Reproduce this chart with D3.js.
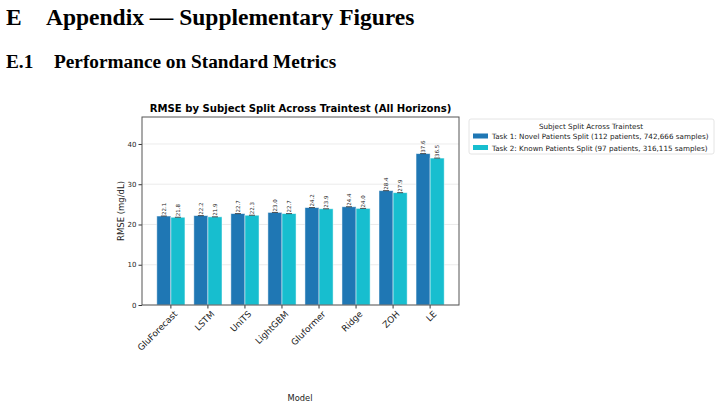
<!DOCTYPE html>
<html>
<head>
<meta charset="utf-8">
<script src="https://cdn.jsdelivr.net/npm/d3@7"></script>
<style>
  body { margin: 0; background: #fff; }
</style>
</head>
<body>
<div id="chart"></div>
<script>
const models = ["GluForecast", "LSTM", "UniTS", "LightGBM", "Gluformer", "Ridge", "ZOH", "LE"];
const task1 = [22.1, 22.2, 22.7, 23.0, 24.2, 24.4, 28.4, 37.6];
const task2 = [21.8, 21.9, 22.3, 22.7, 23.9, 24.0, 27.9, 36.5];
const seriesNames = [
  "Task 1: Novel Patients Split (112 patients, 742,666 samples)",
  "Task 2: Known Patients Split (97 patients, 316,115 samples)"
];
const yTicks = [0, 10, 20, 30, 40];

const width = 721, height = 408;
const colors = ["#1f77b4", "#17becf"];
const margin = {top: 117, right: 262, bottom: 103, left: 142};

const svg = d3.select("#chart").append("svg")
    .attr("width", width)
    .attr("height", height);

// page headings
const serif = "'Liberation Serif', 'Times New Roman', serif";
svg.append("text").attr("x", 6).attr("y", 25)
    .style("font", `bold 23.5px ${serif}`).text("E");
svg.append("text").attr("x", 46).attr("y", 25)
    .style("font", `bold 23.5px ${serif}`).text("Appendix — Supplementary Figures");
svg.append("text").attr("x", 6).attr("y", 68)
    .style("font", `bold 19.3px ${serif}`).text("E.1");
svg.append("text").attr("x", 54).attr("y", 68)
    .style("font", `bold 19.3px ${serif}`).text("Performance on Standard Metrics");

const sans = "'DejaVu Sans', sans-serif";

const x = d3.scaleBand()
    .domain(models)
    .range([margin.left, width - margin.right])
    .paddingInner(0.24)
    .paddingOuter(0.4);

const xs = d3.scaleBand()
    .domain([0, 1])
    .range([0, x.bandwidth()]);

const y = d3.scaleLinear()
    .domain([0, 46.7])
    .range([height - margin.bottom, margin.top]);

// grid
svg.append("g")
    .selectAll("line")
    .data(yTicks)
    .enter().append("line")
      .attr("x1", margin.left)
      .attr("x2", width - margin.right)
      .attr("y1", d => y(d))
      .attr("y2", d => y(d))
      .attr("stroke", "#e6e6e6")
      .attr("stroke-width", 0.8);

const series = [task1, task2];
series.forEach((vals, si) => {
  const g = svg.append("g");
  g.selectAll("rect")
    .data(vals)
    .enter().append("rect")
      .attr("x", (d, i) => x(models[i]) + xs(si))
      .attr("y", d => y(d))
      .attr("width", xs.bandwidth())
      .attr("height", d => y(0) - y(d))
      .attr("fill", colors[si])
      .attr("stroke", "#ffffff")
      .attr("stroke-opacity", 0.6)
      .attr("stroke-width", 0.8);

  // small caps at bar tops
  g.selectAll("line")
    .data(vals)
    .enter().append("line")
      .attr("x1", (d, i) => x(models[i]) + xs(si) + xs.bandwidth() / 2 - 3)
      .attr("x2", (d, i) => x(models[i]) + xs(si) + xs.bandwidth() / 2 + 3)
      .attr("y1", d => y(d))
      .attr("y2", d => y(d))
      .attr("stroke", "#222")
      .attr("stroke-width", 0.8);

  g.selectAll("text")
    .data(vals)
    .enter().append("text")
      .attr("transform", (d, i) => `translate(${x(models[i]) + xs(si) + xs.bandwidth() / 2 + 2},${y(d) - 1}) rotate(-90)`)
      .style("font", `5.5px ${sans}`)
      .attr("fill", "#222")
      .text(d => d.toFixed(1));
});

// axes
const xAxis = svg.append("g")
    .attr("transform", `translate(0,${y(0)})`)
    .call(d3.axisBottom(x).tickSizeOuter(0).tickSize(3.5));
xAxis.select(".domain").remove();
xAxis.selectAll(".tick line").attr("stroke", "#333");
xAxis.selectAll(".tick text")
    .style("font", `8.8px ${sans}`)
    .attr("fill", "#222")
    .attr("text-anchor", "end")
    .attr("dx", "-0.2em")
    .attr("dy", "0.6em")
    .attr("transform", "rotate(-45)");

const yAxis = svg.append("g")
    .attr("transform", `translate(${margin.left},0)`)
    .call(d3.axisLeft(y).tickValues(yTicks).tickSize(3.5).tickPadding(2));
yAxis.select(".domain").remove();
yAxis.selectAll(".tick line").attr("stroke", "#333");
yAxis.selectAll(".tick text")
    .style("font", `7px ${sans}`)
    .attr("fill", "#222");

// frame
svg.append("rect")
    .attr("x", margin.left)
    .attr("y", margin.top)
    .attr("width", width - margin.right - margin.left)
    .attr("height", y(0) - margin.top)
    .attr("fill", "none")
    .attr("stroke", "#555")
    .attr("stroke-width", 1);

// title and labels
svg.append("text")
    .attr("x", (margin.left + width - margin.right) / 2)
    .attr("y", 112)
    .attr("text-anchor", "middle")
    .style("font", `bold 10.1px ${sans}`)
    .text("RMSE by Subject Split Across Traintest (All Horizons)");

svg.append("text")
    .attr("transform", `translate(124,${(margin.top + y(0)) / 2}) rotate(-90)`)
    .attr("text-anchor", "middle")
    .style("font", `8.5px ${sans}`)
    .attr("fill", "#222")
    .text("RMSE (mg/dL)");

svg.append("text")
    .attr("x", 300)
    .attr("y", 401)
    .attr("text-anchor", "middle")
    .style("font", `8.3px ${sans}`)
    .attr("fill", "#222")
    .text("Model");

// legend
const lg = svg.append("g").attr("transform", "translate(469,119)");
lg.append("rect")
    .attr("width", 245)
    .attr("height", 35)
    .attr("rx", 2)
    .attr("fill", "#fff")
    .attr("stroke", "#ddd")
    .attr("stroke-width", 0.8);
lg.append("text")
    .attr("x", 122)
    .attr("y", 10)
    .attr("text-anchor", "middle")
    .style("font", `7.2px ${sans}`)
    .attr("fill", "#222")
    .text("Subject Split Across Traintest");
seriesNames.forEach((name, i) => {
  lg.append("rect")
      .attr("x", 4)
      .attr("y", 14.5 + i * 11.5)
      .attr("width", 15)
      .attr("height", 5)
      .attr("fill", colors[i]);
  lg.append("text")
      .attr("x", 23)
      .attr("y", 20 + i * 11.5)
      .style("font", `7.2px ${sans}`)
      .attr("fill", "#222")
      .text(name);
});
</script>
</body>
</html>
